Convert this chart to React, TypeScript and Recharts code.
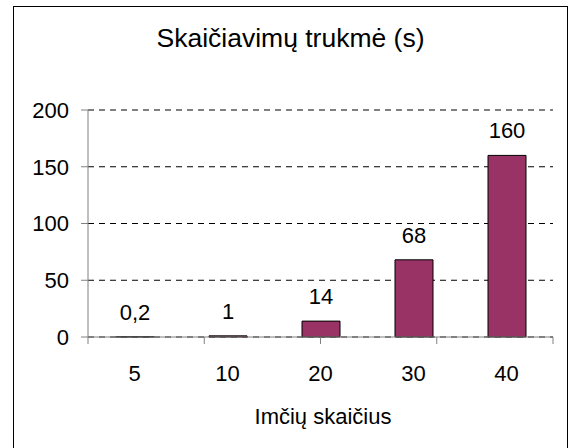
import { Bar, BarChart, CartesianGrid, LabelList, XAxis, YAxis } from "recharts";

const sampleSizes = ["5", "10", "20", "30", "40"];
const durations = [0.2, 1, 14, 68, 160];
const yTicks = [0, 50, 100, 150, 200];
const edgeTicks = [0, 1, 2, 3, 4, 5];

const chartData = sampleSizes.map((size, i) => ({ size, duration: durations[i] }));

const FONT = '"Liberation Sans", Arial, sans-serif';
const AXIS_GRAY = "#808080";

export default function App() {
  return (
    <div
      style={{
        position: "absolute",
        left: 0,
        top: 0,
        width: 568,
        height: 448,
        overflow: "hidden",
        background: "#fff",
        fontFamily: FONT,
      }}
    >
      <div
        style={{
          position: "absolute",
          left: 13,
          top: 6,
          width: 553,
          height: 460,
          border: "1px solid #000",
        }}
      />
      <div
        style={{
          position: "absolute",
          left: 13,
          width: 555,
          top: 22,
          textAlign: "center",
          fontSize: 26.5,
          lineHeight: "32px",
          color: "#000",
        }}
      >
        Skaičiavimų trukmė (s)
      </div>
      <div
        style={{
          position: "absolute",
          left: 88,
          width: 470,
          top: 403,
          textAlign: "center",
          fontSize: 22,
          lineHeight: "28px",
          color: "#000",
        }}
      >
        Imčių skaičius
      </div>
      <div style={{ position: "absolute", left: 0, top: 0 }}>
        <BarChart
          width={568}
          height={448}
          data={chartData}
          margin={{ top: 110, right: 15, left: 0, bottom: 0 }}
        >
          <CartesianGrid
            xAxisId="cat"
            vertical={false}
            stroke="#000"
            strokeDasharray="6 5"
          />
          <XAxis
            xAxisId="axisEdge"
            type="number"
            domain={[0, 5]}
            ticks={edgeTicks}
            allowDataOverflow
            height={1}
            tickSize={7}
            tick={{ fontSize: 1, fill: "none" }}
            tickFormatter={() => ""}
            stroke={AXIS_GRAY}
          />
          <XAxis
            xAxisId="cat"
            dataKey="size"
            height={110}
            axisLine={false}
            tickLine={false}
            tickSize={0}
            tickMargin={27}
            tick={{ fill: "#000", fontSize: 22, fontFamily: FONT }}
          />
          <YAxis
            domain={[0, 200]}
            ticks={yTicks}
            width={88}
            tickSize={7}
            tickMargin={12}
            stroke={AXIS_GRAY}
            tick={{ fill: "#000", fontSize: 22, fontFamily: FONT }}
          />
          <Bar
            xAxisId="cat"
            dataKey="duration"
            fill="#993366"
            stroke="#000"
            strokeWidth={1}
            barSize={38}
            isAnimationActive={false}
          >
            <LabelList
              dataKey="duration"
              position="top"
              offset={17}
              fill="#000"
              fontSize={22}
              fontFamily={FONT}
              formatter={(v: number) => String(v).replace(".", ",")}
            />
          </Bar>
        </BarChart>
      </div>
    </div>
  );
}
